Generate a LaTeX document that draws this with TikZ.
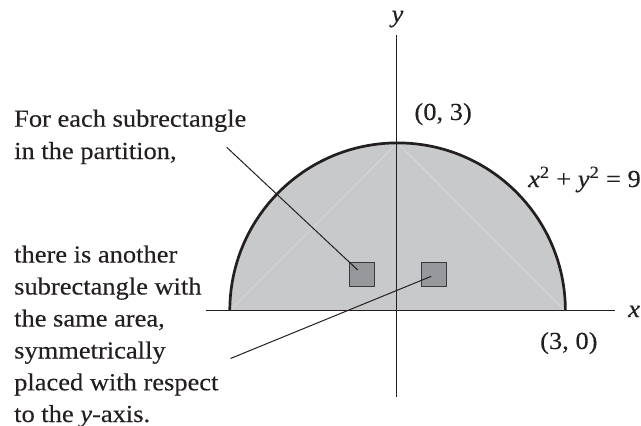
\documentclass[tikz,border=0pt]{standalone}
\usepackage{fontspec}
\setmainfont{Liberation Serif}[FakeStretch=1.08,FakeBold=0.25]
\definecolor{ink}{HTML}{231F20}
\definecolor{diskfill}{HTML}{C8C9CB}
\definecolor{sqfill}{HTML}{97989B}
\definecolor{sqedge}{HTML}{3A3A3A}
\definecolor{faintline}{HTML}{DCDDDE}
\begin{document}
\begin{tikzpicture}[x=1pt,y=-1pt,
  lbl/.style={inner sep=0pt, anchor=base west, text=ink, font=\fontsize{24.5}{30}\selectfont},
  axisline/.style={draw=ink, line width=1.3pt},
  leader/.style={draw=ink, line width=1pt},
  circline/.style={draw=ink, line width=2.7pt},
  faint/.style={draw=faintline, line width=0.6pt},
  subrect/.style={draw=sqedge, fill=sqfill, line width=1.3pt, minimum width=24.5pt, minimum height=24pt, inner sep=0pt}]
\useasboundingbox (0,0) rectangle (641,426);
% half disk
\fill[diskfill] (229.8,310.7) arc[start angle=180,end angle=360,radius=167.8] -- cycle;
\draw[faint] (229.8,310.7) -- (397.5,142.9) -- (565.2,310.7);
% axes
\draw[axisline] (205.7,310.7) -- (615,310.7);
\draw[axisline] (396.7,35) -- (396.7,396.7);
% circle
\draw[circline] (229.8,310.7) arc[start angle=180,end angle=360,radius=167.8];
% subrectangles
\node[subrect] (sqL) at (362,274.7) {};
\node[subrect] (sqR) at (434,274.7) {};
% axis labels
\node[lbl, anchor=base] (ylab) at (397.5,22) {\textit{y}};
\node[lbl] (xlab) at (628,317) {\textit{x}};
\node[lbl] (top) at (414.3,120) {(0, 3)};
\node[lbl] (right) at (540,349) {(3, 0)};
\node[lbl] (eq) at (528,187) {\textit{x}\textsuperscript{2} + \textit{y}\textsuperscript{2} = 9};
% left texts
\node[lbl] (a1) at (14,126.7) {For each subrectangle};
\node[lbl] (a2) at (14,159) {in the partition,};
\node[lbl] (b1) at (14,262.5) {there is another};
\node[lbl] (b2) at (14,294.5) {subrectangle with};
\node[lbl] (b3) at (14,326.5) {the same area,};
\node[lbl] (b4) at (14,358.5) {symmetrically};
\node[lbl] (b5) at (14,390.3) {placed with respect};
\node[lbl] (b6) at (14,422) {to the \textit{y}-axis.};
% leaders
\coordinate (l1) at (226.7,147.3);
\coordinate (l2) at (230.5,358.5);
\draw[leader] (l1) -- ([shift={(-4.3,-4.7)}]sqL.center);
\draw[leader] (l2) -- ([shift={(-2.7,1.6)}]sqR.center);
\end{tikzpicture}
\end{document}
